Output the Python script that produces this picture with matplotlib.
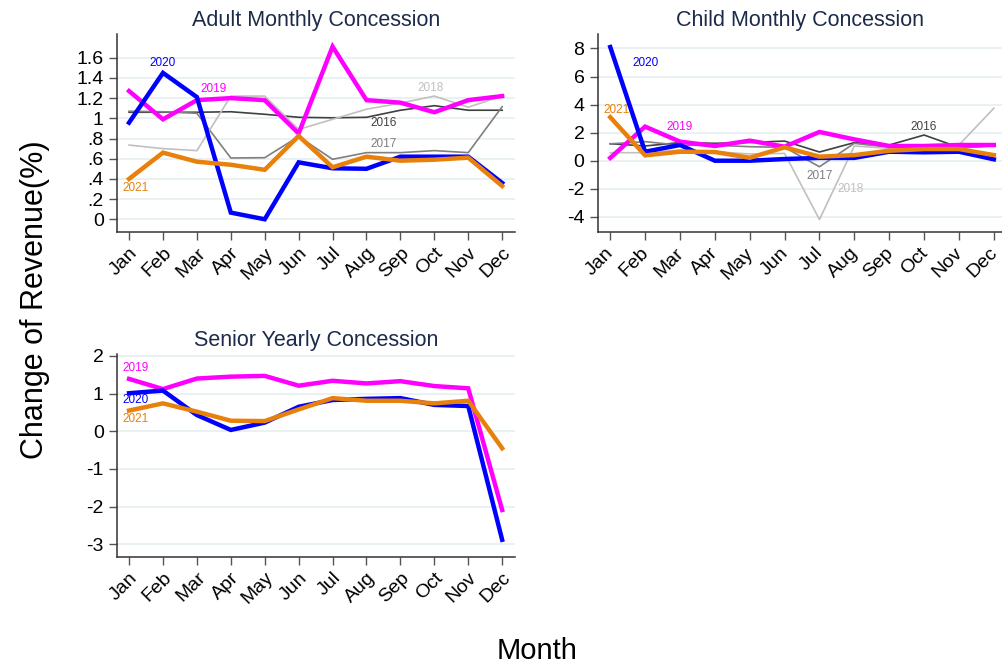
import matplotlib
matplotlib.use("Agg")
import matplotlib.pyplot as plt
import matplotlib.transforms as mtransforms

plt.rcParams['font.family'] = ['Liberation Sans', 'DejaVu Sans']
plt.rcParams['axes.unicode_minus'] = False

months = ["Jan", "Feb", "Mar", "Apr", "May", "Jun", "Jul", "Aug", "Sep", "Oct", "Nov", "Dec"]

# Adult Monthly Concession
adult_2016 = [1.06, 1.06, 1.06, 1.065, 1.04, 1.01, 1.005, 1.01, 1.08, 1.125, 1.08, 1.08]
adult_2017 = [1.07, 1.065, 1.05, 0.607, 0.61, 0.82, 0.594, 0.66, 0.66, 0.68, 0.66, 1.115]
adult_2018 = [0.735, 0.70, 0.68, 1.22, 1.22, 0.89, 0.99, 1.09, 1.15, 1.22, 1.11, 1.22]
adult_2019 = [1.27, 0.99, 1.18, 1.20, 1.18, 0.85, 1.71, 1.18, 1.155, 1.06, 1.18, 1.22]
adult_2020 = [0.957, 1.45, 1.21, 0.066, 0.0, 0.564, 0.505, 0.50, 0.62, 0.62, 0.62, 0.36]
adult_2021 = [0.40, 0.66, 0.57, 0.54, 0.49, 0.825, 0.515, 0.62, 0.58, 0.59, 0.61, 0.33]

# Child Monthly Concession
child_2016 = [1.21, 1.05, 1.29, 1.24, 1.30, 1.40, 0.62, 1.29, 1.12, 1.83, 0.95, 1.05]
child_2017 = [1.20, 1.36, 1.10, 1.10, 1.00, 0.95, -0.43, 1.24, 0.95, 0.95, 0.88, 1.10]
child_2018 = [0.57, 0.57, 0.76, 0.64, 0.48, 0.52, -4.19, 1.05, 0.88, 1.05, 1.12, 3.74]
child_2019 = [0.20, 2.43, 1.36, 1.05, 1.43, 1.00, 2.05, 1.52, 1.05, 1.05, 1.12, 1.12]
child_2020 = [8.10, 0.64, 1.12, 0.0, 0.0, 0.12, 0.20, 0.20, 0.64, 0.60, 0.64, 0.10]
child_2021 = [3.10, 0.38, 0.64, 0.62, 0.21, 0.95, 0.29, 0.40, 0.71, 0.83, 0.83, 0.40]

# Senior Yearly Concession
senior_2019 = [1.39, 1.12, 1.40, 1.45, 1.47, 1.21, 1.34, 1.27, 1.33, 1.20, 1.14, -2.09]
senior_2020 = [1.01, 1.08, 0.43, 0.035, 0.23, 0.65, 0.83, 0.86, 0.88, 0.70, 0.67, -2.88]
senior_2021 = [0.55, 0.74, 0.52, 0.28, 0.27, 0.58, 0.88, 0.81, 0.81, 0.74, 0.81, -0.45]

adult_ticks = [0, 0.2, 0.4, 0.6, 0.8, 1.0, 1.2, 1.4, 1.6]
adult_ticklabels = ["0", ".2", ".4", ".6", ".8", "1", "1.2", "1.4", "1.6"]
child_ticks = [-4, -2, 0, 2, 4, 6, 8]
senior_ticks = [-3, -2, -1, 0, 1, 2]

c16, c17, c18 = "#404040", "#7f7f7f", "#c0c0c0"
c19, c20, c21 = "#ff00ff", "#0000ff", "#e8800c"
title_col = "#1c2b4a"
x = list(range(12))

fig = plt.figure(figsize=(10.03, 6.68), dpi=100)
ax1 = fig.add_axes([0.1167, 0.6527, 0.3968, 0.2964])
ax2 = fig.add_axes([0.5959, 0.6527, 0.404, 0.2964])
ax3 = fig.add_axes([0.1167, 0.1666, 0.3968, 0.3034])


def style(ax, title, ticks, labels=None):
    for s in ["top", "right"]:
        ax.spines[s].set_visible(False)
    for s in ["left", "bottom"]:
        ax.spines[s].set_color("#333333")
        ax.spines[s].set_linewidth(1.1)
    ax.set_yticks(ticks)
    if labels:
        ax.set_yticklabels(labels)
    ax.set_xticks(x)
    ax.set_xticklabels(months, rotation=45, ha="right", rotation_mode="anchor")
    ax.tick_params(axis="both", labelsize=14, length=6, width=1, color="#555555", direction="out")
    ax.tick_params(axis="x", pad=3)
    ax.grid(axis="y", color="#e6eff1", linewidth=1.2)
    ax.set_axisbelow(True)
    ax.set_title(title, fontsize=15.5, color=title_col, pad=6)


# adult
for ys, c in [(adult_2016, c16), (adult_2017, c17), (adult_2018, c18)]:
    ax1.plot(x, ys, color=c, lw=1.2)
for ys, c in [(adult_2019, c19), (adult_2020, c20), (adult_2021, c21)]:
    ax1.plot(x, ys, color=c, lw=3.2, solid_joinstyle="miter")
ax1.set_xlim(-0.354, 11.38)
ax1.set_ylim(-0.126, 1.835)
style(ax1, "Adult Monthly Concession", adult_ticks, adult_ticklabels)
lab = dict(fontsize=8.5, ha="center", va="center")
ax1.text(1.0, 1.55, "2020", color=c20, **lab)
ax1.text(2.5, 1.29, "2019", color=c19, **lab)
ax1.text(8.9, 1.30, "2018", color=c18, **lab)
ax1.text(7.5, 0.95, "2016", color=c16, **lab)
ax1.text(7.5, 0.745, "2017", color=c17, **lab)
ax1.text(0.19, 0.31, "2021", color=c21, **lab)

# child
for ys, c in [(child_2016, c16), (child_2017, c17), (child_2018, c18)]:
    ax2.plot(x, ys, color=c, lw=1.2)
for ys, c in [(child_2019, c19), (child_2020, c20), (child_2021, c21)]:
    ax2.plot(x, ys, color=c, lw=3.2, solid_joinstyle="miter")
ax2.set_xlim(-0.36, 11.26)
ax2.set_ylim(-5.08, 9.03)
style(ax2, "Child Monthly Concession", child_ticks)
# nudge labels a little left so "Dec" stays inside the figure
shift = mtransforms.ScaledTranslation(-5 / 100, 0, fig.dpi_scale_trans)
for t in ax2.get_xticklabels():
    t.set_transform(t.get_transform() + shift)
ax2.text(1.0, 6.96, "2020", color=c20, **lab)
ax2.text(0.19, 3.6, "2021", color=c21, **lab)
ax2.text(2.0, 2.43, "2019", color=c19, **lab)
ax2.text(9.0, 2.43, "2016", color=c16, **lab)
ax2.text(6.0, -1.07, "2017", color=c17, **lab)
ax2.text(6.9, -2.04, "2018", color=c18, **lab)

# senior
for ys, c in [(senior_2019, c19), (senior_2020, c20), (senior_2021, c21)]:
    ax3.plot(x, ys, color=c, lw=3.2, solid_joinstyle="miter")
ax3.set_xlim(-0.354, 11.38)
ax3.set_ylim(-3.33, 2.05)
style(ax3, "Senior Yearly Concession", senior_ticks)
ax3.text(0.19, 1.67, "2019", color=c19, **lab)
ax3.text(0.19, 0.83, "2020", color=c20, **lab)
ax3.text(0.19, 0.33, "2021", color=c21, **lab)

fig.text(0.035, 0.551, "Change of Revenue(%)", rotation=90, fontsize=22, ha="center", va="center")
fig.text(0.535, 0.025, "Month", fontsize=21, ha="center", va="center")

fig.savefig("out.png", dpi=100)
